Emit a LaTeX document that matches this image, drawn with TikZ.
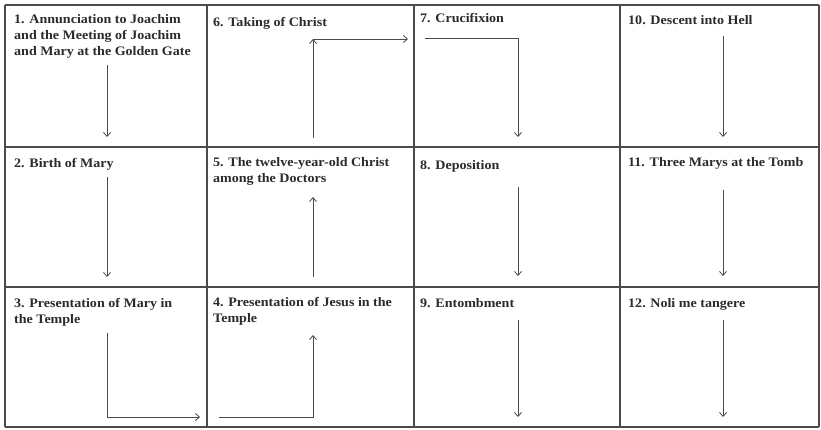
\documentclass[tikz,border=0pt]{standalone}
\usepackage{fontspec}
\setmainfont{Liberation Serif}[FakeStretch=1.08]
\usetikzlibrary{arrows.meta}
\definecolor{ink}{HTML}{2B2B2B}
\definecolor{rule}{HTML}{4A4A4A}
\tikzset{
  gridline/.style={draw=rule, line width=1.1pt},
  label/.style={anchor=north west, inner sep=0pt, align=left, text=ink,
    font=\fontsize{13}{16}\selectfont\bfseries},
  flow/.style={draw=rule, line width=0.8pt, -{Straight Barb[length=4pt,width=7pt]}},
  plain/.style={draw=rule, line width=0.8pt}
}
\begin{document}
\begin{tikzpicture}[x=1pt,y=-1pt]
\useasboundingbox (0,0) rectangle (821,429);
\fill[white] (0,0) rectangle (821,429);
% grid
\foreach \xx in {5,207,414,620,819} \draw[gridline] (\xx,5) -- (\xx,427);
\foreach \yy in {5,147,287,427} \draw[gridline] (5,\yy) -- (819,\yy);
% labels
\node[label] (t1) at (14,14) {1. Annunciation to Joachim\\and the Meeting of Joachim\\and Mary at the Golden Gate};
\node[label] (t6) at (213,17) {6. Taking of Christ};
\node[label] (t7) at (420,13) {7. Crucifixion};
\node[label] (t10) at (628,15) {10. Descent into Hell};
\node[label] (t2) at (14,158) {2. Birth of Mary};
\node[label] (t5) at (213,157) {5. The twelve-year-old Christ\\among the Doctors};
\node[label] (t8) at (420,160) {8. Deposition};
\node[label] (t11) at (628,157) {11. Three Marys at the Tomb};
\node[label] (t3) at (14,298) {3. Presentation of Mary in\\the Temple};
\node[label] (t4) at (213,297) {4. Presentation of Jesus in the\\Temple};
\node[label] (t9) at (420,298) {9. Entombment};
\node[label] (t12) at (628,298) {12. Noli me tangere};
% arrow coordinates
\coordinate (a1s) at (107,65);  \coordinate (a1e) at (107,137);
\coordinate (a6s) at (313,138); \coordinate (a6c) at (313,39); \coordinate (a6e) at (408,39);
\coordinate (a7s) at (425,38);  \coordinate (a7c) at (518,38); \coordinate (a7e) at (518,137);
\coordinate (a10s) at (723,36); \coordinate (a10e) at (723,137);
\coordinate (a2s) at (107,177); \coordinate (a2e) at (107,277);
\coordinate (a5s) at (313,277); \coordinate (a5e) at (313,197);
\coordinate (a8s) at (518,187); \coordinate (a8e) at (518,276);
\coordinate (a11s) at (723,190); \coordinate (a11e) at (723,276);
\coordinate (a3s) at (107,333); \coordinate (a3c) at (107,417); \coordinate (a3e) at (200,417);
\coordinate (a4s) at (219,417); \coordinate (a4c) at (313,417); \coordinate (a4e) at (313,335);
\coordinate (a9s) at (518,320); \coordinate (a9e) at (518,417);
\coordinate (a12s) at (723,320); \coordinate (a12e) at (723,417);
% arrows
\draw[flow] (a1s) -- (a1e);
\draw[flow] (a6s) -- (a6c);
\draw[flow] (a6c) -- (a6e);
\draw[flow] (a7s) -- (a7c) -- (a7e);
\draw[flow] (a10s) -- (a10e);
\draw[flow] (a2s) -- (a2e);
\draw[flow] (a5s) -- (a5e);
\draw[flow] (a8s) -- (a8e);
\draw[flow] (a11s) -- (a11e);
\draw[flow] (a3s) -- (a3c) -- (a3e);
\draw[flow] (a4s) -- (a4c) -- (a4e);
\draw[flow] (a9s) -- (a9e);
\draw[flow] (a12s) -- (a12e);
\end{tikzpicture}
\end{document}
